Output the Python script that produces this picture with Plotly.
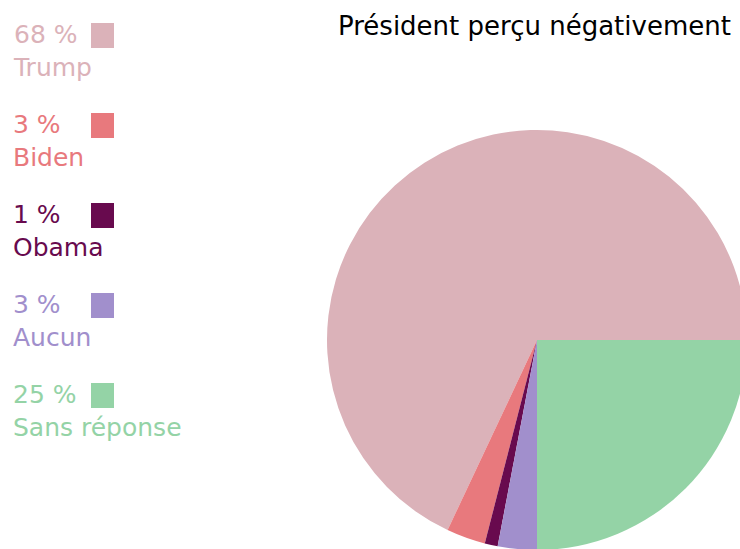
import plotly.graph_objects as go

labels = ["Trump", "Biden", "Obama", "Aucun", "Sans réponse"]
values = [68, 3, 1, 3, 25]
pct_labels = ["68 %", "3 %", "1 %", "3 %", "25 %"]
colors = ["#dbb2b9", "#e8797d", "#680a4e", "#a18fcc", "#94d3a6"]
title_text = "Président perçu négativement"

W, H = 760, 560  # slightly larger than window; pie is cropped like the reference


def px(x):
    return x / W


def py(y):
    return 1 - y / H


# plotly places the clockwise edge of the first slice at `rotation` when
# direction is counterclockwise; we want the first slice to begin at 3 o'clock
first_angle = values[0] / sum(values) * 360
rotation = 90 - first_angle

fig = go.Figure()
fig.add_trace(go.Pie(
    labels=labels,
    values=values,
    sort=False,
    direction="counterclockwise",
    rotation=rotation,
    textinfo="none",
    hoverinfo="label+percent",
    marker=dict(colors=colors, line=dict(width=0)),
    showlegend=False,
    domain=dict(x=[px(327), px(747)], y=[py(550), py(130)]),
))

annotations = []
shapes = []
for i, (lab, pct, col) in enumerate(zip(labels, pct_labels, colors)):
    top = 23 + 90 * i
    annotations.append(dict(
        x=px(11), y=py(top + 28), xref="paper", yref="paper",
        xanchor="left", yanchor="middle", align="left", showarrow=False,
        text=f"{pct}<br>{lab}",
        font=dict(family="DejaVu Sans", size=25, color=col),
    ))
    shapes.append(dict(
        type="rect", xref="paper", yref="paper",
        x0=px(91), x1=px(114), y0=py(top + 25), y1=py(top),
        fillcolor=col, line=dict(width=0),
    ))

annotations.append(dict(
    x=px(336), y=py(26), xref="paper", yref="paper",
    xanchor="left", yanchor="middle", showarrow=False,
    text=title_text,
    font=dict(family="DejaVu Sans", size=26, color="#000000"),
))

fig.update_layout(
    width=W, height=H, autosize=False,
    margin=dict(l=0, r=0, t=0, b=0),
    paper_bgcolor="white", plot_bgcolor="white",
    annotations=annotations, shapes=shapes,
)

fig.write_html(
    "out.html",
    config={"displayModeBar": False},
    post_script="document.body.style.margin='0';document.body.style.overflow='hidden';document.documentElement.style.overflow='hidden';",
)
